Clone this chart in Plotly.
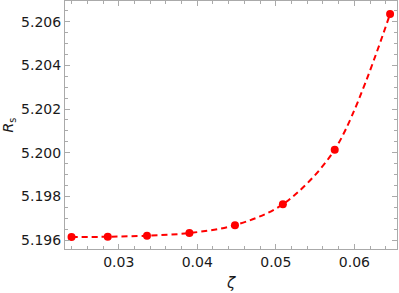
import plotly.graph_objects as go

zeta = [0.02399, 0.0286, 0.0336, 0.0390, 0.0448, 0.0509, 0.0575, 0.06455]
rs = [5.19614, 5.19615, 5.19620, 5.19632, 5.19668, 5.19764, 5.20014, 5.20636]

red = "#ff0000"
fig = go.Figure()
fig.add_trace(go.Scatter(x=zeta, y=rs, mode="lines",
                         line=dict(color=red, width=2, dash="6px,4px", shape="spline", smoothing=0.9),
                         hoverinfo="skip"))
fig.add_trace(go.Scatter(x=zeta, y=rs, mode="markers",
                         marker=dict(color=red, size=8)))

axis_common = dict(showline=True, mirror="allticks", linecolor="#aaaaaa", linewidth=1,
                   ticks="inside", ticklen=5, tickcolor="#aaaaaa", showgrid=False, zeroline=False,
                   tickfont=dict(family="DejaVu Sans", size=14, color="#1a1a1a"))
fig.update_layout(
    width=399, height=293,
    margin=dict(l=65, r=2, t=1, b=44),
    paper_bgcolor="white", plot_bgcolor="white",
    showlegend=False,
    xaxis=dict(range=[0.02316, 0.06543], tickvals=[0.03, 0.04, 0.05, 0.06],
               ticktext=["0.03", "0.04", "0.05", "0.06"],
               minor=dict(ticks="inside", dtick=0.002, tick0=0.0, ticklen=3, tickcolor="#aaaaaa"),
               title=dict(text="<i>ζ</i>", font=dict(family="DejaVu Sans", size=15, color="#1a1a1a"), standoff=8),
               **axis_common),
    yaxis=dict(range=[5.19559, 5.20695], tickvals=[5.196, 5.198, 5.200, 5.202, 5.204, 5.206],
               ticktext=["5.196", "5.198", "5.200", "5.202", "5.204", "5.206"],
               minor=dict(ticks="inside", dtick=0.0005, tick0=5.196, ticklen=3, tickcolor="#aaaaaa"),
               title=dict(text="<i>R</i><sub>s</sub>", font=dict(family="DejaVu Sans", size=14, color="#1a1a1a"), standoff=6),
               **axis_common),
)
fig.write_html("out.html", config={"displayModeBar": False},
               post_script="document.body.style.margin='0';document.body.style.overflow='hidden';")
